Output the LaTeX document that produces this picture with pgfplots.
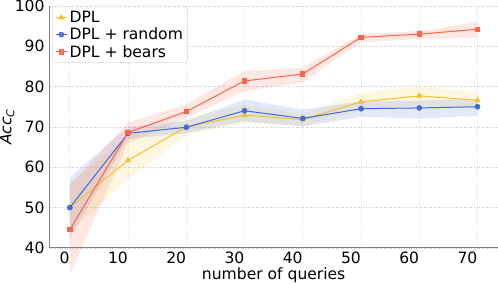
\documentclass[border=0pt]{standalone}
\usepackage{fontspec}
\setmainfont{DejaVu Sans}
\usepackage{pgfplots}
\pgfplotsset{compat=1.18}
\usepgfplotslibrary{fillbetween}
\definecolor{cy}{HTML}{F2C12E}
\definecolor{cb}{HTML}{4169E1}
\definecolor{cr}{HTML}{FF6347}
\newcommand{\fs}{\fontsize{15.5}{18}\selectfont}
\begin{document}
\begin{tikzpicture}
\begin{axis}[
  scale only axis, width=446pt, height=241pt,
  xmin=-3.45, xmax=73.45, ymin=40, ymax=100,
  axis x line*=bottom, axis y line*=left,
  axis line style={draw=gray, line width=0.8pt, -},
  xtick={0,10,...,70}, ytick={40,50,...,100},
  tick style={draw=none},
  /pgf/number format/assume math mode=true,
  tick label style={font=\fs},
  xticklabel style={anchor=north east, inner sep=0pt, yshift=-4pt},
  yticklabel style={anchor=east, inner sep=0pt, xshift=-5pt},
  xmajorgrids, ymajorgrids,
  x grid style={draw=gray!25, line width=1pt, dotted},
  y grid style={draw=gray!45, line width=0.5pt, dotted},
  clip=false,
  label style={font=\fs},
  xlabel={number of queries},
  ylabel={\textit{Acc\textsubscript{C}}},
  xlabel style={at={(axis description cs:0.5,0)}, anchor=north, inner sep=0pt, yshift=-20pt},
  ylabel style={inner sep=0pt},
  legend cell align=left,
  legend style={font=\fs, at={(rel axis cs:0.006,0.996)}, anchor=north west,
    draw=gray!30, rounded corners=2pt, fill=white, fill opacity=0.8, text opacity=1,
    inner xsep=2.5pt, inner ysep=2pt, row sep=0pt},
  legend image code/.code={\draw[mark repeat=2,mark phase=2] plot coordinates {(0cm,0cm)(0.2cm,0cm)(0.4cm,0cm)};},
]
% DPL
\addplot[name path=yl, draw=none, forget plot] coordinates {(0,44)(10,57)(20,68)(30,71)(40,70.3)(50,74)(60,75.5)(70,74.5)};
\addplot[name path=yu, draw=none, forget plot] coordinates {(0,56)(10,67.6)(20,72)(30,75.5)(40,73.2)(50,78.5)(60,80)(70,78.5)};
\addplot[cy, fill opacity=0.15, draw=none, forget plot] fill between[of=yl and yu];
\addplot[cy, line width=1pt, mark=triangle*, mark size=2.6pt] coordinates {(0,50)(10,61.7)(20,70)(30,72.9)(40,71.8)(50,76.2)(60,77.7)(70,76.6)};
\addlegendentry{DPL}
% random
\addplot[name path=bl, draw=none, forget plot] coordinates {(0,42.5)(10,67)(20,68.5)(30,71.4)(40,70.1)(50,72.5)(60,72.1)(70,72.7)};
\addplot[name path=bu, draw=none, forget plot] coordinates {(0,57.5)(10,70)(20,71.5)(30,76.8)(40,74.3)(50,76.3)(60,76.5)(70,77)};
\addplot[cb, fill opacity=0.15, draw=none, forget plot] fill between[of=bl and bu];
\addplot[cb, line width=1pt, mark=*, mark size=2.3pt] coordinates {(0,50)(10,68.4)(20,69.9)(30,74)(40,72.1)(50,74.5)(60,74.7)(70,75)};
\addlegendentry{DPL + random}
% bears
\addplot[name path=rl, draw=none, forget plot] coordinates {(0,33.3)(10,66)(20,72.3)(30,78.9)(40,81)(50,91)(60,91.8)(70,92.1)};
\addplot[name path=ru, draw=none, forget plot] coordinates {(0,55.7)(10,71.1)(20,75.6)(30,83.9)(40,84.7)(50,93)(60,93.8)(70,96)};
\addplot[cr, fill opacity=0.15, draw=none, forget plot] fill between[of=rl and ru];
\addplot[cr, line width=1pt, mark=square*, mark size=2.2pt] coordinates {(0,44.5)(10,68.6)(20,73.8)(30,81.4)(40,83.1)(50,92.2)(60,93)(70,94.2)};
\addlegendentry{DPL + bears}
\end{axis}
\end{tikzpicture}
\end{document}
